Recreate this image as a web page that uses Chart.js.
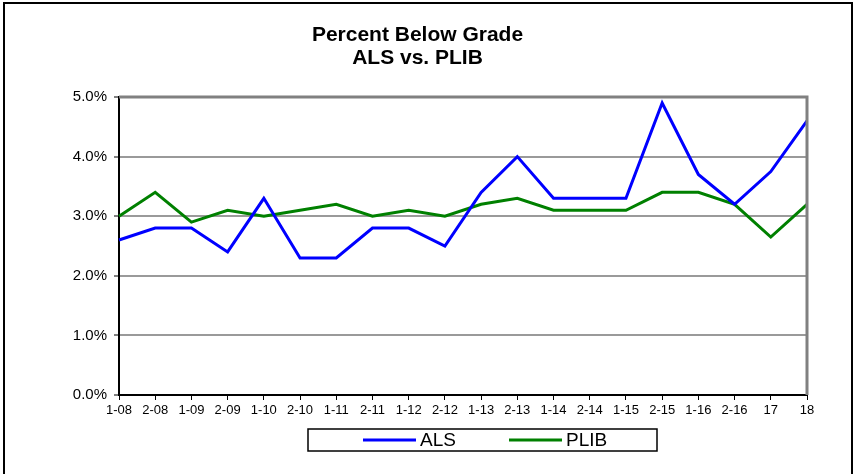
<!DOCTYPE html>
<html>
<head>
<meta charset="utf-8">
<script src="https://cdn.jsdelivr.net/npm/chart.js@4.4.1/dist/chart.umd.min.js"></script>
<style>
  html, body { margin: 0; padding: 0; background: #fff; }
  #wrap { width: 856px; height: 474px; position: relative; }
</style>
</head>
<body>
<div id="wrap"><canvas id="c" width="856" height="474"></canvas></div>
<script>
const categories = ['1-08','2-08','1-09','2-09','1-10','2-10','1-11','2-11','1-12','2-12','1-13','2-13','1-14','2-14','1-15','2-15','1-16','2-16','17','18'];
const alsValues  = [2.6, 2.8, 2.8, 2.4, 3.3, 2.3, 2.3, 2.8, 2.8, 2.5, 3.4, 4.0, 3.3, 3.3, 3.3, 4.9, 3.7, 3.2, 3.75, 4.6];
const plibValues = [3.0, 3.4, 2.9, 3.1, 3.0, 3.1, 3.2, 3.0, 3.1, 3.0, 3.2, 3.3, 3.1, 3.1, 3.1, 3.4, 3.4, 3.2, 2.65, 3.2];
const titleLines = ['Percent Below Grade', 'ALS vs. PLIB'];
const seriesNames = ['ALS', 'PLIB'];
const seriesColors = ['#0000FF', '#008000'];

const FONT = "'Liberation Sans', Arial, sans-serif";

const framePlugin = {
  id: 'frame',
  afterLayout(chart) {
    // shift title centre to match the reference
    if (chart.titleBlock) { chart.titleBlock.left += 28; }
  },
  beforeDraw(chart) {
    const ctx = chart.ctx;
    ctx.save();
    ctx.fillStyle = '#fff';
    ctx.fillRect(0, 0, chart.width, chart.height);
    ctx.restore();
  },
  afterDraw(chart) {
    const ctx = chart.ctx;
    const a = chart.chartArea;
    ctx.save();
    ctx.strokeStyle = '#808080';
    ctx.lineWidth = 3;
    ctx.beginPath();
    ctx.moveTo(a.left, a.top);
    ctx.lineTo(a.right, a.top);
    ctx.lineTo(a.right, a.bottom);
    ctx.stroke();
    ctx.strokeStyle = '#000';
    ctx.lineWidth = 2;
    ctx.strokeRect(4, 3, 848, 480);
    const bx = 308, by = 429, bw = 349, bh = 22;
    ctx.lineWidth = 1.5;
    ctx.strokeRect(bx, by, bw, bh);
    const cy = by + bh / 2;
    const starts = [363, 509];
    ctx.font = '19px ' + FONT;
    ctx.textBaseline = 'middle';
    ctx.textAlign = 'left';
    chart.data.datasets.forEach((ds, i) => {
      ctx.strokeStyle = ds.borderColor;
      ctx.lineWidth = 3;
      ctx.beginPath();
      ctx.moveTo(starts[i], cy);
      ctx.lineTo(starts[i] + 53, cy);
      ctx.stroke();
      ctx.fillStyle = '#000';
      ctx.fillText(ds.label, starts[i] + 57, cy + 1);
    });
    ctx.restore();
  }
};

new Chart(document.getElementById('c'), {
  type: 'line',
  data: {
    labels: categories,
    datasets: [
      { label: seriesNames[0], data: alsValues, borderColor: seriesColors[0], backgroundColor: seriesColors[0], borderWidth: 3, pointRadius: 0, tension: 0, fill: false },
      { label: seriesNames[1], data: plibValues, borderColor: seriesColors[1], backgroundColor: seriesColors[1], borderWidth: 3, pointRadius: 0, tension: 0, fill: false }
    ]
  },
  options: {
    responsive: false,
    animation: false,
    events: [],
    layout: { padding: { left: 0, right: 49, top: 0, bottom: 53 } },
    plugins: {
      legend: { display: false },
      tooltip: { enabled: false },
      title: {
        display: true,
        text: titleLines,
        color: '#000',
        font: { family: FONT, size: 21, weight: 'bold', lineHeight: 1.1 },
        padding: { top: 23.5, bottom: 27.3 }
      }
    },
    scales: {
      x: {
        offset: false,
        grid: { display: true, drawOnChartArea: false, drawTicks: true, tickLength: 5, tickColor: '#000', tickWidth: 1 },
        border: { display: true, color: '#000', width: 2 },
        ticks: { color: '#000', font: { family: FONT, size: 13 }, padding: 3, maxRotation: 0, autoSkip: false },
        afterFit(scale) { scale.height = 26; }
      },
      y: {
        min: 0, max: 5,
        grid: { color: '#9a9a9a', lineWidth: 2, borderDash: [5, 1], tickLength: 5, tickColor: '#000', tickWidth: 1, tickBorderDash: [] },
        border: { display: true, color: '#000', width: 2 },
        ticks: {
          stepSize: 1, color: '#000', font: { family: FONT, size: 15 }, padding: 7,
          callback: v => Number(v).toFixed(1) + '%'
        },
        afterFit(scale) { scale.width = 119; }
      }
    }
  },
  plugins: [framePlugin]
});
</script>
</body>
</html>
